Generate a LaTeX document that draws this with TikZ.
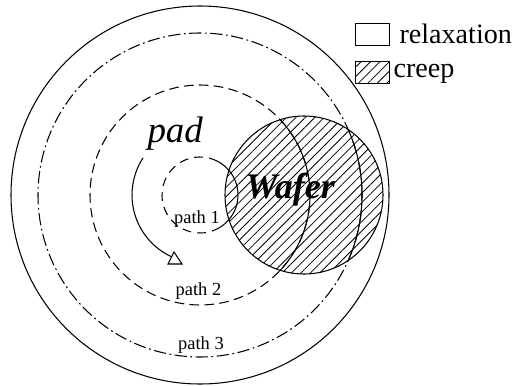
\documentclass[tikz,border=0pt]{standalone}
\usepackage{fontspec}
\setmainfont{Liberation Serif}
\usetikzlibrary{patterns.meta}

\begin{document}
\begin{tikzpicture}[
  line width=0.6pt,
  hatch/.style={pattern={Lines[angle=45,distance=3.8pt,line width=0.45pt]}},
  pathlbl/.style={anchor=base,inner sep=0pt,font=\fontsize{10.5}{12}\selectfont},
  dashone/.style={dash pattern=on 5pt off 3.5pt},
  dashtwo/.style={dash pattern=on 5.5pt off 3pt},
  dashthree/.style={dash pattern=on 7pt off 2pt on 1pt off 2pt}
]
\useasboundingbox (0,0) rectangle (10.6,7.7);

% Pad (lingkaran luar)
\coordinate (o) at (4,3.8);
\draw (o) circle (3.78cm);

% Wafer diarsir
\coordinate (w) at (6.08,3.8);
\fill[hatch] (w) circle (1.58cm);

% Lintasan 1, 2, 3
\draw[dashthree] (o) circle (3.24cm);
\draw[dashtwo] (o) circle (2.2cm);
\draw[dashone] (o) ++(63:0.76) arc[start angle=63,end angle=296,radius=0.76];
\draw (o) ++(-64:0.76) arc[start angle=-64,end angle=63,radius=0.76];

% Bagian lintasan di dalam wafer digambar penuh
\begin{scope}
  \clip (w) circle (1.58cm);
  \draw (o) circle (3.24cm);
  \draw (o) circle (2.2cm);
\end{scope}
\draw (w) circle (1.58cm);

% Panah arah putaran
\draw (o) ++(147:1.36) arc[start angle=147,end angle=248,radius=1.36];
\filldraw[fill=white] (3.36,2.42) -- (3.64,2.42) -- (3.48,2.66) -- cycle;

% Label
\node[anchor=base west,inner sep=0pt,font=\fontsize{21}{24}\selectfont\itshape] (pad) at (2.94,4.86) {pad};
\node[anchor=base west,inner sep=0pt,font=\fontsize{20.5}{24}\selectfont\bfseries\itshape] (wafer) at (4.9,3.74) {Wafer};
\node[pathlbl] (p1) at (3.94,3.24) {path 1};
\node[pathlbl] (p2) at (3.97,1.8) {path 2};
\node[pathlbl] (p3) at (4.02,0.72) {path 3};

% Keterangan
\draw[line width=0.45pt] (7.1,6.8) rectangle (7.78,7.24);
\draw[hatch,line width=0.45pt] (7.1,6.04) rectangle (7.78,6.48);
\node[anchor=base west,inner sep=0pt,font=\fontsize{16}{19}\selectfont] (relax) at (7.98,6.84) {relaxation};
\node[anchor=base west,inner sep=0pt,font=\fontsize{16}{19}\selectfont] (creep) at (7.86,6.16) {creep};
\end{tikzpicture}
\end{document}
